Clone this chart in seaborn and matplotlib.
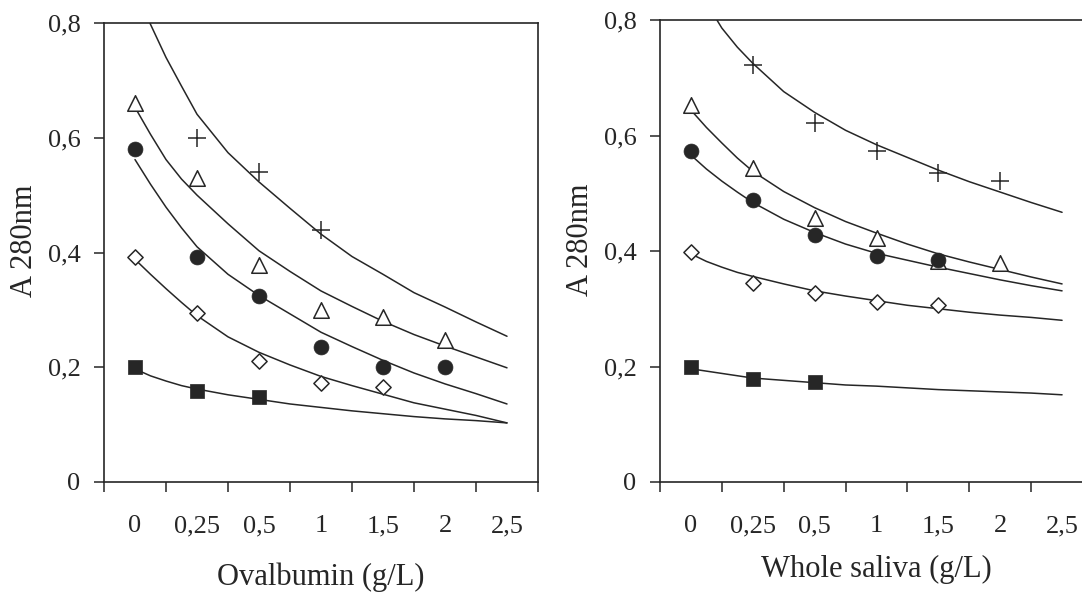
import matplotlib
matplotlib.use("Agg")
import numpy as np
import pandas as pd
import seaborn as sns
import matplotlib.pyplot as plt

# ---------------- data ----------------
x_labels = ["0", "0,25", "0,5", "1", "1,5", "2", "2,5"]
y_ticks = [0, 0.2, 0.4, 0.6, 0.8]
y_labels = ["0", "0,2", "0,4", "0,6", "0,8"]

# measured points (x = category index)
L_plus_x = [1, 2, 3]
L_plus_y = [0.600, 0.541, 0.439]
L_tri_x = [0, 1, 2, 3, 4, 5]
L_tri_y = [0.661, 0.530, 0.379, 0.299, 0.288, 0.248]
L_circ_x = [0, 1, 2, 3, 4, 5]
L_circ_y = [0.580, 0.392, 0.325, 0.236, 0.201, 0.201]
L_dia_x = [0, 1, 2, 3, 4]
L_dia_y = [0.392, 0.295, 0.211, 0.173, 0.166]
L_sq_x = [0, 1, 2]
L_sq_y = [0.200, 0.159, 0.149]

R_plus_x = [1, 2, 3, 4, 5]
R_plus_y = [0.722, 0.621, 0.573, 0.535, 0.522]
R_tri_x = [0, 1, 2, 3, 4, 5]
R_tri_y = [0.652, 0.544, 0.457, 0.423, 0.383, 0.379]
R_circ_x = [0, 1, 2, 3, 4]
R_circ_y = [0.574, 0.489, 0.428, 0.391, 0.385]
R_dia_x = [0, 1, 2, 3, 4]
R_dia_y = [0.399, 0.344, 0.328, 0.312, 0.306]
R_sq_x = [0, 1, 2]
R_sq_y = [0.199, 0.179, 0.173]

# fitted curves
curve_x = [0, 0.25, 0.5, 0.75, 1, 1.5, 2, 2.5, 3, 3.5, 4, 4.5, 5, 5.5, 6]
L_plus_cx = [0.24, 0.5, 0.75, 1, 1.5, 2, 2.5, 3, 3.5, 4, 4.5, 5, 5.5, 6]
L_plus_c = [0.80, 0.740, 0.690, 0.641, 0.574, 0.523, 0.477, 0.432, 0.393, 0.362, 0.330, 0.305, 0.279, 0.254]
L_tri_c = [0.653, 0.606, 0.562, 0.528, 0.500, 0.450, 0.403, 0.367, 0.333, 0.306, 0.280, 0.257, 0.237, 0.218, 0.199]
L_circ_c = [0.562, 0.519, 0.479, 0.443, 0.410, 0.362, 0.325, 0.293, 0.261, 0.236, 0.212, 0.190, 0.171, 0.154, 0.136]
L_dia_c = [0.388, 0.362, 0.337, 0.313, 0.290, 0.253, 0.226, 0.204, 0.184, 0.168, 0.153, 0.138, 0.127, 0.116, 0.103]
L_sq_c = [0.197, 0.185, 0.176, 0.168, 0.162, 0.152, 0.144, 0.136, 0.130, 0.124, 0.119, 0.114, 0.110, 0.107, 0.103]

R_plus_cx = [0.42, 0.5, 0.75, 1, 1.5, 2, 2.5, 3, 3.5, 4, 4.5, 5, 5.5, 6]
R_plus_c = [0.80, 0.786, 0.753, 0.725, 0.676, 0.640, 0.609, 0.584, 0.562, 0.540, 0.520, 0.502, 0.484, 0.467]
R_tri_c = [0.644, 0.614, 0.587, 0.561, 0.538, 0.503, 0.475, 0.451, 0.431, 0.412, 0.395, 0.381, 0.368, 0.355, 0.343]
R_circ_c = [0.566, 0.542, 0.521, 0.502, 0.484, 0.455, 0.432, 0.412, 0.396, 0.384, 0.372, 0.361, 0.350, 0.340, 0.331]
R_dia_c = [0.395, 0.382, 0.372, 0.363, 0.356, 0.343, 0.331, 0.322, 0.314, 0.306, 0.300, 0.294, 0.289, 0.285, 0.280]
R_sq_c = [0.196, 0.192, 0.188, 0.184, 0.180, 0.176, 0.172, 0.168, 0.166, 0.163, 0.160, 0.158, 0.156, 0.154, 0.151]

# ---------------- style ----------------
sns.set_theme(style="white")
plt.rcParams["font.family"] = ["Liberation Serif", "DejaVu Serif"]
INK = "#262626"

fig = plt.figure(figsize=(10.82, 5.97), dpi=100)
ax1 = fig.add_axes([104 / 1082, 115 / 597, 434 / 1082, 459 / 597])
ax2 = fig.add_axes([660 / 1082, 115 / 597, 433 / 1082, 462 / 597])

marker_styles = {
    "plus": dict(marker="+", s=150, color=INK, linewidth=1.1),
    "tri": dict(marker="^", s=125, facecolor="white", edgecolor=INK, linewidth=1.1),
    "circ": dict(marker="o", s=115, color=INK, edgecolor=INK, linewidth=0.5),
    "dia": dict(marker="D", s=60, facecolor="white", edgecolor=INK, linewidth=1.1),
    "sq": dict(marker="s", s=105, color=INK, edgecolor=INK, linewidth=0.5),
}


def draw(ax, curves, points, xlabel, xlab_y):
    for cx, cy in curves:
        sns.lineplot(x=cx, y=cy, ax=ax, color=INK, linewidth=1.1,
                     estimator=None, sort=False, zorder=2)
    for key, (px, py) in points.items():
        sns.scatterplot(x=px, y=py, ax=ax, zorder=3, legend=False,
                        **marker_styles[key])
    ax.set_xlim(-0.5, 6.5)
    ax.set_ylim(0, 0.8)
    ax.set_xticks(np.arange(-0.5, 7.0, 1.0))
    ax.set_xticks(range(len(x_labels)), minor=True)
    ax.set_xticklabels(x_labels, minor=True)
    ax.tick_params(axis="x", which="major", direction="out", length=7,
                   width=1.1, color=INK, labelbottom=False, bottom=True)
    ax.tick_params(axis="x", which="minor", length=0, pad=24,
                   labelsize=19, labelcolor=INK)
    ax.set_yticks(y_ticks)
    ax.set_yticklabels(y_labels)
    ax.tick_params(axis="y", direction="out", length=7, width=1.1, color=INK,
                   pad=10, labelsize=19, labelcolor=INK, left=True)
    for sp in ax.spines.values():
        sp.set_color(INK)
        sp.set_linewidth(1.2)
        sp.set_visible(True)
    ax.set_xlabel(xlabel, fontsize=22, color=INK, va="center")
    ax.xaxis.set_label_coords(0.5, xlab_y)
    ax.set_ylabel("A 280nm", fontsize=22, color=INK, va="center")
    ax.yaxis.set_label_coords(-0.183, 0.525)
    ax.grid(False)


draw(ax1,
     [(L_plus_cx, L_plus_c), (curve_x, L_tri_c), (curve_x, L_circ_c),
      (curve_x, L_dia_c), (curve_x, L_sq_c)],
     {"plus": (L_plus_x, L_plus_y), "tri": (L_tri_x, L_tri_y),
      "circ": (L_circ_x, L_circ_y), "dia": (L_dia_x, L_dia_y),
      "sq": (L_sq_x, L_sq_y)},
     "Ovalbumin (g/L)", -0.207)

draw(ax2,
     [(R_plus_cx, R_plus_c), (curve_x, R_tri_c), (curve_x, R_circ_c),
      (curve_x, R_dia_c), (curve_x, R_sq_c)],
     {"plus": (R_plus_x, R_plus_y), "tri": (R_tri_x, R_tri_y),
      "circ": (R_circ_x, R_circ_y), "dia": (R_dia_x, R_dia_y),
      "sq": (R_sq_x, R_sq_y)},
     "Whole saliva (g/L)", -0.19)

fig.savefig("out.png", dpi=100)
